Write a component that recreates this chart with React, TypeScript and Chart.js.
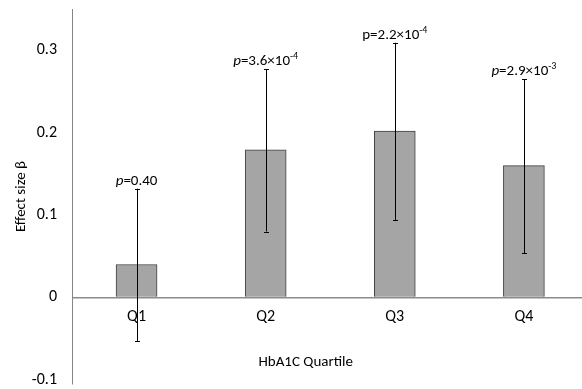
import React, { useEffect, useRef } from "react";
import { Chart, registerables } from "chart.js";

Chart.register(...registerables);

const categories = ["Q1", "Q2", "Q3", "Q4"];
const beta = [0.04, 0.179, 0.202, 0.16];
const ciUpper = [0.132, 0.277, 0.309, 0.265];
const ciLower = [-0.053, 0.08, 0.094, 0.054];
const pMantissa = ["0.40", "3.6", "2.2", "2.9"];
const pExponent = ["", "-4", "-4", "-3"];
const pItalic = [true, true, false, true];
const yTicks = [-0.1, 0, 0.1, 0.2, 0.3];
const xTitle = "HbA1C Quartile";
const yTitle = "Effect size \u03b2";

const FONT = "Carlito, Lato, 'Open Sans', sans-serif";

const overlayPlugin = {
  id: "overlay",
  afterDatasetsDraw(chart: any) {
    const ctx = chart.ctx;
    const xs = chart.scales.x;
    const ys = chart.scales.y;
    ctx.save();
    // error bars
    ctx.strokeStyle = "#000";
    ctx.lineWidth = 1;
    categories.forEach((_, i) => {
      const x = Math.round(xs.getPixelForValue(i)) + 0.5;
      const yh = ys.getPixelForValue(ciUpper[i]);
      const yl = ys.getPixelForValue(ciLower[i]);
      ctx.beginPath();
      ctx.moveTo(x, yh);
      ctx.lineTo(x, yl);
      ctx.moveTo(x - 2.5, Math.round(yh) + 0.5);
      ctx.lineTo(x + 2.5, Math.round(yh) + 0.5);
      ctx.moveTo(x - 2.5, Math.round(yl) + 0.5);
      ctx.lineTo(x + 2.5, Math.round(yl) + 0.5);
      ctx.stroke();
    });
    // p labels
    ctx.fillStyle = "#000";
    ctx.textBaseline = "alphabetic";
    ctx.textAlign = "left";
    categories.forEach((_, i) => {
      const cx = xs.getPixelForValue(i);
      const base = ys.getPixelForValue(ciUpper[i]) - 4;
      const pFont = (pItalic[i] ? "italic " : "") + "15px " + FONT;
      const mainFont = "15px " + FONT;
      const supFont = "10px " + FONT;
      const main = "=" + pMantissa[i] + (pExponent[i] ? "\u00d710" : "");
      ctx.font = pFont;
      const wp = ctx.measureText("p").width;
      ctx.font = mainFont;
      const wm = ctx.measureText(main).width;
      ctx.font = supFont;
      const ws = pExponent[i] ? ctx.measureText(pExponent[i]).width : 0;
      let x = cx - (wp + wm + ws) / 2;
      ctx.font = pFont;
      ctx.fillText("p", x, base);
      x += wp;
      ctx.font = mainFont;
      ctx.fillText(main, x, base);
      x += wm;
      if (pExponent[i]) {
        ctx.font = supFont;
        ctx.fillText(pExponent[i], x, base - 6);
      }
    });
    // category labels and x title
    const y0 = ys.getPixelForValue(0);
    ctx.font = "16px " + FONT;
    ctx.textAlign = "center";
    ctx.textBaseline = "middle";
    ctx.fillStyle = "#000";
    categories.forEach((c, i) => {
      ctx.fillText(c, xs.getPixelForValue(i), y0 + 20);
    });
    ctx.font = "15px " + FONT;
    ctx.fillText(xTitle, xs.getPixelForValue(1.31), y0 + 65);
    ctx.restore();
  },
};

export default function App() {
  const ref = useRef<HTMLCanvasElement>(null);
  useEffect(() => {
    const chart = new Chart(ref.current as HTMLCanvasElement, {
      type: "bar",
      data: {
        datasets: [
          {
            data: beta.map((v, i) => ({ x: i, y: v })),
            backgroundColor: "#a5a5a5",
            borderColor: "#3f3f3f",
            borderWidth: 1,
            barThickness: 41,
          } as any,
        ],
      },
      options: {
        responsive: false,
        animation: false,
        layout: { padding: { top: 9, bottom: 5, left: 0, right: 0 } },
        plugins: { legend: { display: false }, tooltip: { enabled: false } },
        scales: {
          x: {
            type: "linear",
            min: -0.5,
            max: 3.45,
            offset: false,
            display: false,
          },
          y: {
            min: -0.105,
            max: 0.35,
            afterBuildTicks: (scale: any) => {
              scale.ticks = yTicks.map((v) => ({ value: v }));
            },
            afterFit: (scale: any) => {
              scale.width = 72;
              scale.paddingTop = 0;
              scale.paddingBottom = 0;
            },
            border: { display: true, color: "#868686", width: 1 },
            grid: {
              drawTicks: false,
              lineWidth: 1.5,
              color: (c: any) => (c.tick && c.tick.value === 0 ? "#8c8c8c" : "rgba(0,0,0,0)"),
            },
            ticks: {
              padding: 15,
              color: "#000",
              font: { family: FONT, size: 16 },
              callback: (v: any) => String(Math.round(Number(v) * 10) / 10),
            },
            title: {
              display: true,
              text: yTitle,
              color: "#000",
              font: { family: FONT, size: 15 },
              padding: { top: 12, bottom: 4 },
            },
          },
        },
      },
      plugins: [overlayPlugin],
    } as any);
    return () => chart.destroy();
  }, []);
  return (
    <div style={{ position: "absolute", left: 0, top: 0, width: 582, height: 389, background: "#fff" }}>
      <canvas ref={ref} width={582} height={389} />
    </div>
  );
}
